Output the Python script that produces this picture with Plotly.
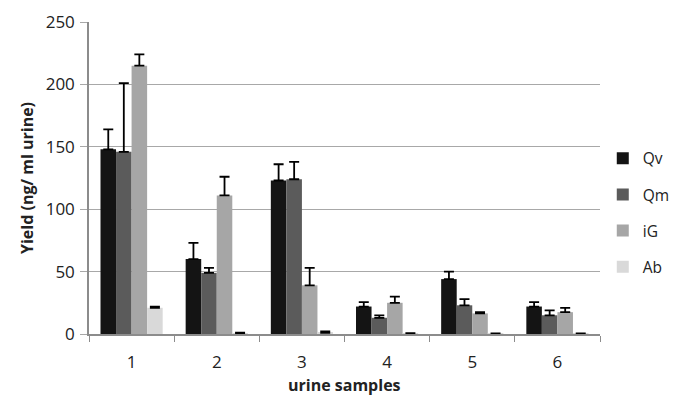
import plotly.graph_objects as go

categories = ["1", "2", "3", "4", "5", "6"]
series_names = ["Qv", "Qm", "iG", "Ab"]
qv = [148, 60, 123, 22, 44, 22]
qm = [146, 49, 124, 13, 23, 15]
ig = [215, 111, 39, 25, 16.5, 17.5]
ab = [21, 0.5, 1, 0.4, 0.3, 0.3]
qv_err = [16, 13, 13, 3.5, 6, 3.5]
qm_err = [55, 4, 14, 2, 5, 4]
ig_err = [9, 15, 14, 5, 1, 3.5]
ab_err = [1, 0.6, 1, 0.2, 0.2, 0.2]
colors = ["#141414", "#5b5b5b", "#a6a6a6", "#d9d9d9"]
x_title = "urine samples"
y_title = "Yield (ng/ ml urine)"

fig = go.Figure()
for name, vals, errs, col in zip(series_names, [qv, qm, ig, ab], [qv_err, qm_err, ig_err, ab_err], colors):
    fig.add_trace(go.Bar(
        x=categories, y=vals, name=name, legendgroup=name,
        marker=dict(color=col, line=dict(width=0)),
        error_y=dict(type="data", array=errs, symmetric=False, arrayminus=[0]*len(errs),
                     color="#000000", thickness=1.8, width=5),
    ))

font_family = "Open Sans, DejaVu Sans, sans-serif"
fig.update_layout(
    width=675, height=397,
    margin=dict(l=89, r=75, t=22, b=63, autoexpand=False),
    paper_bgcolor="white", plot_bgcolor="white",
    barmode="group", bargap=0.27, bargroupgap=0,
    font=dict(family=font_family, size=17, color="#222222"),
    showlegend=True,
    legend=dict(xref="container", yref="container", x=0.893, y=0.643, xanchor="left", yanchor="top",
                font=dict(size=15.5, color="#222222"), tracegroupgap=13,
                traceorder="grouped", itemwidth=30, bgcolor="rgba(0,0,0,0)"),
    xaxis=dict(type="category", showgrid=False, showline=True, linecolor="#8c8c8c", linewidth=1.5,
               ticks="outside", tickson="boundaries", ticklen=6, tickcolor="#8c8c8c",
               ticklabelstandoff=12),
    yaxis=dict(range=[0, 250], dtick=50, showgrid=True, gridcolor="#a8a8a8", gridwidth=1,
               showline=True, linecolor="#8c8c8c", linewidth=1.5, ticks="outside", ticklen=7,
               tickcolor="#a8a8a8", zeroline=False, ticklabelstandoff=2,
               title=dict(text="<b>" + y_title + "</b>", font=dict(size=16), standoff=8)),
    annotations=[dict(text="<b>" + x_title + "</b>", xref="paper", yref="paper", x=0.5, y=0,
                      xanchor="center", yanchor="middle", yshift=-51, showarrow=False,
                      font=dict(size=16, color="#222222"))],
)
fig.write_html("out.html")
